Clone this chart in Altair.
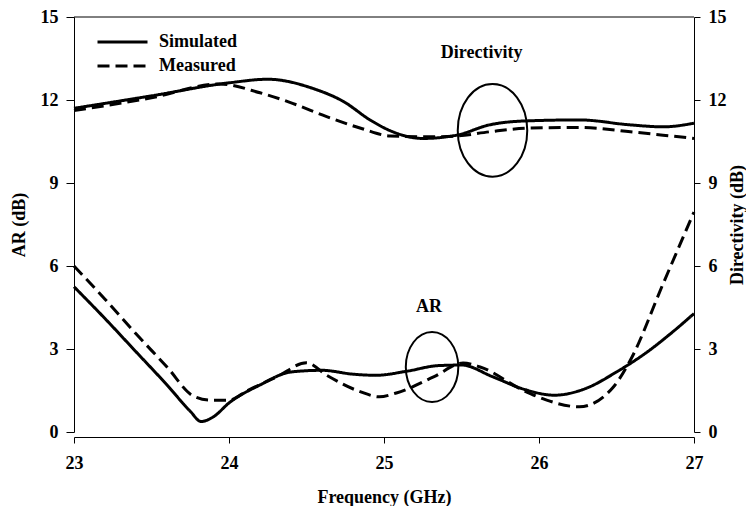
import altair as alt
import pandas as pd

# ---------------- data ----------------
series = ["Simulated", "Measured"]

ar_sim_f = [23.0, 23.2, 23.4, 23.6, 23.75, 23.82, 23.9, 24.0, 24.2, 24.4, 24.6, 24.8, 24.95,
            25.15, 25.35, 25.5, 25.7, 25.9, 26.1, 26.3, 26.5, 26.7, 26.85, 27.0]
ar_sim_v = [5.25, 4.1, 2.9, 1.7, 0.75, 0.38, 0.55, 1.05, 1.7, 2.17, 2.23, 2.09, 2.05,
            2.2, 2.4, 2.42, 2.0, 1.55, 1.33, 1.57, 2.17, 2.9, 3.56, 4.28]

ar_mea_f = [23.0, 23.2, 23.4, 23.6, 23.77, 23.88, 24.0, 24.12, 24.31, 24.5, 24.63, 24.85,
            24.97, 25.08, 25.32, 25.51, 25.62, 25.9, 26.05, 26.26, 26.48, 26.59, 26.8, 27.0]
ar_mea_v = [6.0, 4.8, 3.55, 2.35, 1.3, 1.15, 1.15, 1.5, 2.0, 2.5, 2.05, 1.45,
            1.27, 1.41, 1.99, 2.49, 2.35, 1.5, 1.15, 0.91, 1.63, 2.6, 5.35, 7.95]

dir_sim_f = [23.0, 23.5, 24.0, 24.25, 24.54, 24.74, 24.91, 25.04, 25.25, 25.47, 25.68,
             25.9, 26.26, 26.59, 26.8, 27.0]
dir_sim_v = [11.7, 12.15, 12.62, 12.75, 12.42, 11.94, 11.28, 10.89, 10.61, 10.73, 11.1,
             11.24, 11.28, 11.1, 11.03, 11.16]

dir_mea_f = [23.0, 23.5, 23.94, 24.2, 24.41, 24.63, 24.85, 25.04, 25.3, 25.47, 25.68,
             25.92, 26.26, 26.59, 26.8, 27.0]
dir_mea_v = [11.62, 12.08, 12.58, 12.26, 11.88, 11.4, 10.98, 10.7, 10.67, 10.7, 10.85,
             10.98, 11.01, 10.85, 10.73, 10.61]

# annotations (data coordinates)
ar_label = ["AR"]
ar_label_x = [25.29]
ar_label_y = [4.52]
ar_ellipse_x = [25.31]
ar_ellipse_y = [2.35]

dir_label = ["Directivity"]
dir_label_x = [25.63]
dir_label_y = [13.7]
dir_ellipse_x = [25.70]
dir_ellipse_y = [10.9]

x_ticks = [23, 24, 25, 26, 27]
y_ticks = [0, 3, 6, 9, 12, 15]

# ---------------- tables ----------------
ar_df = pd.concat([
    pd.DataFrame({"f": ar_sim_f, "v": ar_sim_v, "s": series[0]}),
    pd.DataFrame({"f": ar_mea_f, "v": ar_mea_v, "s": series[1]}),
])
dir_df = pd.concat([
    pd.DataFrame({"f": dir_sim_f, "v": dir_sim_v, "s": series[0]}),
    pd.DataFrame({"f": dir_mea_f, "v": dir_mea_v, "s": series[1]}),
])
ar_ann = pd.DataFrame({"f": ar_label_x, "v": ar_label_y, "t": ar_label})
ar_ell = pd.DataFrame({"f": ar_ellipse_x, "v": ar_ellipse_y})
dir_ann = pd.DataFrame({"f": dir_label_x, "v": dir_label_y, "t": dir_label})
dir_ell = pd.DataFrame({"f": dir_ellipse_x, "v": dir_ellipse_y})

FONT = "Liberation Serif"
FS = 18
W, H = 620, 415

x_enc = alt.X("f:Q", scale=alt.Scale(domain=[23, 27], nice=False, zero=False),
              axis=alt.Axis(values=x_ticks, format="d", title="Frequency (GHz)",
                            offset=5, tickSize=6, labelPadding=11, titlePadding=16,
                            labelFlush=False, grid=False))

y_left = alt.Y("v:Q", scale=alt.Scale(domain=[0, 15], nice=False),
               axis=alt.Axis(values=y_ticks, title="AR (dB)", orient="left",
                             tickSize=8, labelPadding=8, titlePadding=12,
                             labelFlush=False, grid=False))
y_right = alt.Y("v:Q", scale=alt.Scale(domain=[0, 15], nice=False),
                axis=alt.Axis(values=y_ticks, title="Directivity (dB)", orient="right",
                              tickSize=6, labelPadding=8, titlePadding=20, titleAngle=270,
                              labelFlush=False, grid=False))

dash = alt.StrokeDash("s:N", scale=alt.Scale(domain=series, range=[[1, 0], [12, 6]]),
                      legend=alt.Legend(title=None))

ellipse_path = "M -0.75 0 A 0.75 1 0 1 1 0.75 0 A 0.75 1 0 1 1 -0.75 0 Z"

ar_lines = alt.Chart(ar_df).mark_line(interpolate="monotone", strokeWidth=3, color="black").encode(
    x=x_enc, y=y_left, strokeDash=dash, detail="s:N")
ar_text = alt.Chart(ar_ann).mark_text(font=FONT, fontSize=FS, fontWeight="bold", color="black").encode(
    x=x_enc, y=y_left, text="t:N")
ar_circle = alt.Chart(ar_ell).mark_point(shape=ellipse_path, size=4900, filled=False,
                                          strokeWidth=2, color="black", opacity=1).encode(x=x_enc, y=y_left)
top_rule = alt.Chart(ar_ann).mark_rule(color="black", strokeWidth=1).encode(
    x=alt.value(0), x2=alt.value(W), y=alt.value(0))

dir_lines = alt.Chart(dir_df).mark_line(interpolate="monotone", strokeWidth=3, color="black").encode(
    x=x_enc, y=y_right, strokeDash=dash, detail="s:N")
dir_text = alt.Chart(dir_ann).mark_text(font=FONT, fontSize=FS, fontWeight="bold", color="black").encode(
    x=x_enc, y=y_right, text="t:N")
dir_circle = alt.Chart(dir_ell).mark_point(shape=ellipse_path, size=8590, filled=False,
                                           strokeWidth=2, color="black", opacity=1).encode(x=x_enc, y=y_right)

left = alt.layer(ar_lines, ar_circle, ar_text, top_rule)
right = alt.layer(dir_lines, dir_circle, dir_text)

chart = alt.layer(left, right).resolve_scale(y="independent").properties(
    width=W, height=H, padding={"left": 2, "top": 0, "right": 0, "bottom": 0}
).configure_view(stroke=None).configure_axis(
    labelFont=FONT, titleFont=FONT, labelFontSize=FS, titleFontSize=FS,
    labelFontWeight="bold", titleFontWeight="bold", labelColor="black", titleColor="black",
    domainColor="black", tickColor="black", domainWidth=1, tickWidth=1
).configure_legend(
    orient="none", legendX=22, legendY=15, padding=0, symbolType="stroke",
    symbolSize=2500, symbolStrokeWidth=3, symbolStrokeColor="black",
    labelFont=FONT, labelFontSize=FS, labelFontWeight="bold", labelColor="black",
    labelOffset=10, clipHeight=20, rowPadding=4
)

chart.save("out.html", embed_options={"renderer": "svg", "actions": False})
